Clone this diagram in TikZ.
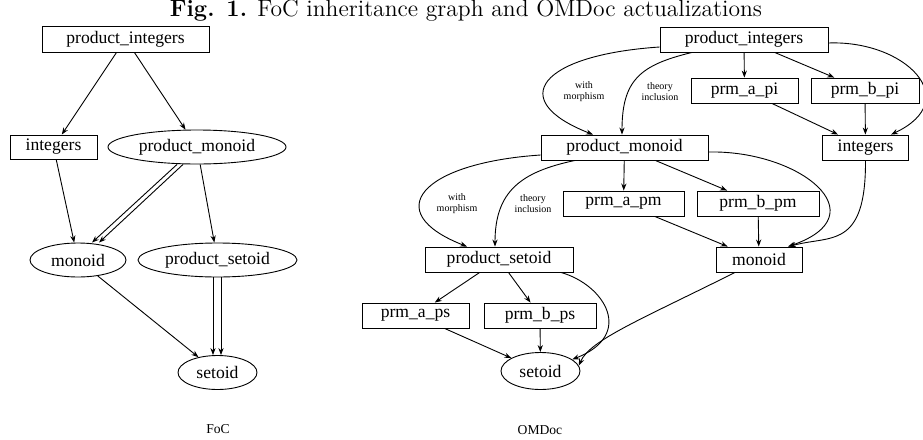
\documentclass[tikz,border=0pt]{standalone}
\usepackage{fontspec}
\usepackage{tikz}
\usetikzlibrary{shapes.geometric, arrows.meta}
\newfontfamily\nodefont{Liberation Serif}

\begin{document}
\begin{tikzpicture}[x = 0.5pt, y = -0.5pt, line width = 0.45pt,
	box/.style = {draw, rectangle, minimum height = 12.5pt, inner sep = 0pt, font = \fontsize{8.8}{10}\nodefont},
	oval/.style = {draw, ellipse, minimum height = 17pt, inner sep = 0pt, font = \fontsize{8.8}{10}\nodefont},
	link/.style = {-{Stealth[length = 3.5pt, width = 2.6pt]}},
	tag/.style = {align = center, inner sep = 0pt, font = \fontsize{5}{5.5}\nodefont},
	caption/.style = {inner sep = 0pt, font = \fontsize{6.8}{8}\nodefont}]

	\useasboundingbox (0, 0) rectangle (923, 440);

	\node[anchor = base, inner sep = 0pt, font = \fontsize{11.8}{13}\selectfont] (title) at (466, 16) {\textbf{Fig. 1.} FoC inheritance graph and OMDoc actualizations};

	% FoC
	\node[box, minimum width = 83.5pt, minimum height = 13pt] (lpi) at (125.5, 39) {product\_integers};
	\node[box, minimum width = 43.5pt, minimum height = 12pt] (li) at (53.5, 147) {integers};
	\node[oval, minimum width = 89pt] (lpm) at (197, 147) {product\_monoid};
	\node[oval, minimum width = 48pt] (lm) at (78, 260) {monoid};
	\node[oval, minimum width = 79.5pt] (lps) at (217.5, 260) {product\_setoid};
	\node[oval, minimum width = 39.5pt] (ls) at (217.5, 372.5) {setoid};
	\node[caption] (lcap) at (218, 429) {FoC};

	\draw[link] (lpi) -- (li);
	\draw[link] (lpi) -- (lpm);
	\draw[link] (li) -- (lm);
	\draw[link] ([xshift = -10pt]lpm.south) -- ([xshift = 7pt]lm.north);
	\draw[link] ([xshift = -7pt]lpm.south) -- ([xshift = 10.5pt]lm.north);
	\draw[link] (lpm) -- (lps);
	\draw[link] (lm) -- (ls);
	\draw[link] ([xshift = -2.25pt]lps.south) -- ([xshift = -2.25pt]ls.north);
	\draw[link] ([xshift = 1.75pt]lps.south) -- ([xshift = 1.75pt]ls.north);

	% OMDoc
	\node[box, minimum width = 84pt] (rpi) at (744, 39.5) {product\_integers};
	\node[box, minimum width = 53.5pt] (rapi) at (744.5, 90.5) {prm\_a\_pi};
	\node[box, minimum width = 54pt] (rbpi) at (865, 90.5) {prm\_b\_pi};
	\node[box, minimum width = 83.5pt] (rpm) at (624.5, 147.5) {product\_monoid};
	\node[box, minimum width = 43pt] (ri) at (865.5, 147.5) {integers};
	\node[box, minimum width = 60.5pt] (rapm) at (623.5, 203.5) {prm\_a\_pm};
	\node[box, minimum width = 61pt] (rbpm) at (758, 203.5) {prm\_b\_pm};
	\node[box, minimum width = 74pt] (rps) at (499, 259.5) {product\_setoid};
	\node[box, minimum width = 43pt] (rm) at (759, 259.5) {monoid};
	\node[box, minimum width = 53.5pt] (raps) at (415.5, 315.5) {prm\_a\_ps};
	\node[box, minimum width = 56pt] (rbps) at (540, 315.5) {prm\_b\_ps};
	\node[oval, minimum width = 39.5pt, minimum height = 18.5pt] (rs) at (540.5, 371) {setoid};
	\node[caption] (rcap) at (540, 430) {OMDoc};

	\node[tag] (wm1) at (584, 92) {with\\morphism};
	\node[tag] (ti1) at (660, 92) {theory\\inclusion};
	\node[tag] (wm2) at (457, 204) {with\\morphism};
	\node[tag] (ti2) at (533, 204) {theory\\inclusion};

	\draw[link] (rpi) -- (rapi);
	\draw[link] (rpi) -- (rbpi);
	\draw[link] ([yshift = -3.75pt]rpi.west) .. controls (540, 55) and (505, 100) .. ([xshift = -15.75pt]rpm.north);
	\draw[link] ([xshift = -26pt]rpi.south) .. controls (640, 65) and (622, 80) .. ([xshift = -1.25pt]rpm.north);
	\draw[link] ([yshift = -1.75pt]rpi.east) .. controls (905, 40) and (965, 100) .. ([xshift = 12.75pt]ri.north);
	\draw[link] (rapi) -- (ri);
	\draw[link] (rbpi) -- (ri);

	\draw[link] (rpm) -- (rapm);
	\draw[link] (rpm) -- (rbpm);
	\draw[link] ([yshift = -3.75pt]rpm.west) .. controls (421, 163) and (379, 212) .. ([xshift = -16pt]rps.north);
	\draw[link] ([xshift = -24.75pt]rpm.south) .. controls (520, 172) and (495, 192) .. ([xshift = -2pt]rps.north);
	\draw[link] ([yshift = -2.25pt]rpm.east) .. controls (800, 150) and (880, 215) .. ([xshift = 14.5pt]rm.north);
	\draw[link] (ri.south) .. controls (866, 250) and (830, 235) .. ([xshift = 15pt]rm.north);
	\draw[link] (rapm) -- (rm);
	\draw[link] (rbpm) -- (rm);

	\draw[link] (rps) -- (raps);
	\draw[link] (rps) -- (rbps);
	\draw[link] ([xshift = 31pt]rps.south) .. controls (605, 285) and (635, 335) .. (rs.20);
	\draw[link] ([xshift = -12pt]rm.south) .. controls (640, 320) and (590, 340) .. (rs.8);
	\draw[link] (raps) -- (rs);
	\draw[link] (rbps) -- (rs);

\end{tikzpicture}
\end{document}
